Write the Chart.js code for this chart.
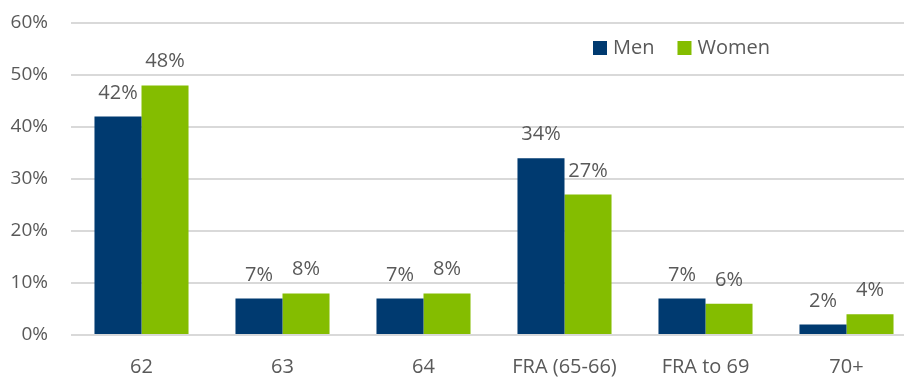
<!DOCTYPE html>
<html lang="en">
<head>
    <meta charset="UTF-8">
    <title>Claiming age by sex</title>
    <script src="https://cdn.jsdelivr.net/npm/chart.js"></script>
    <style>
        html, body {
            margin: 0;
            padding: 0;
            background: #ffffff;
            overflow: hidden;
        }

        .chart-box {
            position: relative;
            width: 918px;
            height: 379px;
        }
    </style>
</head>
<body>
    <div class="chart-box">
        <canvas id="ageChart"></canvas>
    </div>

    <script>
        // Claiming age categories and shares (percent)
        const categories = ['62', '63', '64', 'FRA (65-66)', 'FRA to 69', '70+'];
        const menValues = [42, 7, 7, 34, 7, 2];
        const womenValues = [48, 8, 8, 27, 6, 4];
        const yTicks = [0, 10, 20, 30, 40, 50, 60];

        const MEN_COLOR = '#003a70';
        const WOMEN_COLOR = '#84bd00';
        const TEXT_COLOR = '#595959';
        const FONT = "'Open Sans', sans-serif";

        // Percent labels above each bar
        const barLabels = {
            id: 'barLabels',
            afterDatasetsDraw(chart) {
                const ctx = chart.ctx;
                ctx.save();
                ctx.font = '20px ' + FONT;
                ctx.fillStyle = TEXT_COLOR;
                ctx.textAlign = 'center';
                ctx.textBaseline = 'alphabetic';
                chart.data.datasets.forEach((ds, i) => {
                    chart.getDatasetMeta(i).data.forEach((bar, j) => {
                        ctx.fillText(ds.data[j] + '%', bar.x, bar.y - 18);
                    });
                });
                ctx.restore();
            }
        };

        // Legend drawn inside the plot, top right
        const insideLegend = {
            id: 'insideLegend',
            afterDraw(chart) {
                const ctx = chart.ctx;
                const area = chart.chartArea;
                let x = area.left + 522;
                const y = 48;
                ctx.save();
                ctx.font = '20px ' + FONT;
                ctx.textBaseline = 'middle';
                ctx.textAlign = 'left';
                chart.data.datasets.forEach(ds => {
                    ctx.fillStyle = ds.backgroundColor;
                    ctx.fillRect(x, y - 7, 14, 14);
                    ctx.fillStyle = TEXT_COLOR;
                    ctx.fillText(ds.label, x + 20, y);
                    x += 20 + ctx.measureText(ds.label).width + 23;
                });
                ctx.restore();
            }
        };

        new Chart(document.getElementById('ageChart'), {
            type: 'bar',
            data: {
                labels: categories,
                datasets: [
                    {
                        label: 'Men',
                        data: menValues,
                        backgroundColor: MEN_COLOR,
                        categoryPercentage: 0.667,
                        barPercentage: 1.0
                    },
                    {
                        label: 'Women',
                        data: womenValues,
                        backgroundColor: WOMEN_COLOR,
                        categoryPercentage: 0.667,
                        barPercentage: 1.0
                    }
                ]
            },
            options: {
                responsive: true,
                maintainAspectRatio: false,
                animation: false,
                layout: {
                    padding: { top: 23, right: 1, left: 0, bottom: 0 }
                },
                plugins: {
                    legend: { display: false },
                    tooltip: { enabled: false }
                },
                scales: {
                    x: {
                        grid: { display: false, drawTicks: false },
                        border: { display: false },
                        ticks: {
                            color: TEXT_COLOR,
                            font: { family: FONT, size: 20 },
                            padding: 20
                        },
                        afterFit(scale) {
                            scale.height = 44;
                            scale.paddingLeft = 0;
                            scale.paddingRight = 0;
                        }
                    },
                    y: {
                        min: 0,
                        max: 60,
                        afterBuildTicks(scale) {
                            scale.ticks = yTicks.map(v => ({ value: v }));
                        },
                        grid: {
                            color: '#d9d9d9',
                            lineWidth: 2,
                            drawTicks: false
                        },
                        border: { display: false },
                        ticks: {
                            color: TEXT_COLOR,
                            font: { family: FONT, size: 19 },
                            padding: 23,
                            callback: v => v + '%'
                        },
                        afterFit(scale) {
                            scale.width = 71;
                            scale.paddingTop = 0;
                            scale.paddingBottom = 0;
                        }
                    }
                }
            },
            plugins: [barLabels, insideLegend]
        });
    </script>
</body>
</html>
